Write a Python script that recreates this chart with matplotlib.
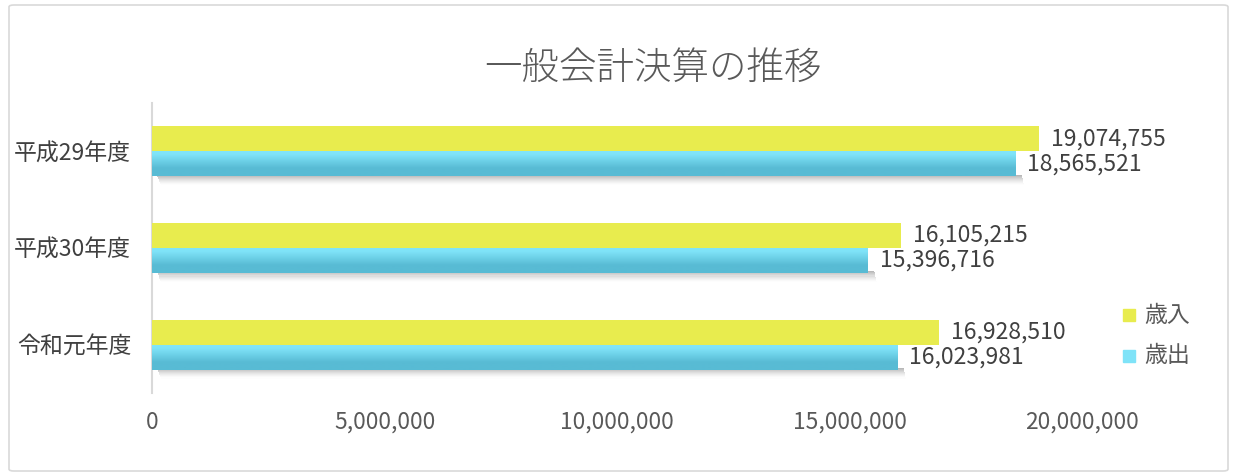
import matplotlib
matplotlib.use("Agg")
import matplotlib.pyplot as plt
import numpy as np
from matplotlib.patches import FancyBboxPatch
from matplotlib.ticker import FuncFormatter

plt.rcParams['font.family'] = ['Noto Sans CJK JP', 'DejaVu Sans']

title = "一般会計決算の推移"
categories = ["平成29年度", "平成30年度", "令和元年度"]
revenue = [19074755, 16105215, 16928510]      # 歳入
expenditure = [18565521, 15396716, 16023981]  # 歳出
series_names = ["歳入", "歳出"]
xticks = [0, 5000000, 10000000, 15000000, 20000000]

W, H = 1237, 475
fig = plt.figure(figsize=(W / 100, H / 100), dpi=100)
fig.patch.set_facecolor("white")

# outer border
fig.patches.append(FancyBboxPatch((9 / W, 4 / H), 1219 / W, 466 / H,
                                  boxstyle="round,pad=0,rounding_size=0.004",
                                  transform=fig.transFigure, fill=False,
                                  edgecolor="#d9d9d9", linewidth=1.2))

ax = fig.add_axes([152 / W, (H - 393) / H, (1082 - 152) / W, 290 / H])

y = np.arange(len(categories))
h = 0.26
yellow = "#e8ec4e"
blue_top = np.array([0x80, 0xe4, 0xf9]) / 255
blue_bot = np.array([0x58, 0xbb, 0xd4]) / 255

# soft shadows under the blue bars
nsteps = 10
for i, v in enumerate(expenditure):
    for k in range(nsteps):
        top = y[i] + h - 0.02
        ax.barh(top + k * 0.011, v + 40000 - k * 5000, height=0.011, align="edge",
                left=100000 + k * 10000, color="#000000",
                alpha=0.28 * (1 - k / nsteps) ** 1.5, linewidth=0, zorder=1)

bars_r = ax.barh(y - h / 2, revenue, height=h, color=yellow, linewidth=0, zorder=3)
bars_e = ax.barh(y + h / 2, expenditure, height=h, color="#7fe3f8", linewidth=0, zorder=3)

# gradient fill for blue bars
grad = np.zeros((50, 1, 3))
t = np.linspace(0, 1, 50)
tt = np.clip((t - 0.15) / 0.55, 0, 1)
for c in range(3):
    grad[:, 0, c] = blue_top[c] * (1 - tt) + blue_bot[c] * tt
for b in bars_e:
    x0, y0 = b.get_x(), b.get_y()
    im = ax.imshow(grad, extent=(x0, x0 + b.get_width(), y0 + b.get_height(), y0),
                   aspect="auto", zorder=4, interpolation="bilinear")
    im.set_clip_path(b)
ax.set_xlim(0, 20000000)
ax.set_ylim(2.5, -0.5)

label_color = "#404040"
for i in range(len(categories)):
    ax.text(revenue[i] + 250000, y[i] - h / 2, f"{revenue[i]:,}", va="center", ha="left",
            fontsize=16.5, color=label_color, zorder=5)
    ax.text(expenditure[i] + 250000, y[i] + h / 2, f"{expenditure[i]:,}", va="center", ha="left",
            fontsize=16.5, color=label_color, zorder=5)

ax.set_yticks(y)
ax.set_yticklabels(categories, fontsize=16.5, color="#404040")
ax.set_xticks(xticks)
ax.xaxis.set_major_formatter(FuncFormatter(lambda v, p: f"{int(v):,}"))
ax.tick_params(axis="x", labelsize=16.4, labelcolor="#595959", length=0, pad=13)
ax.tick_params(axis="y", length=0, pad=15)
for s in ["top", "right", "bottom"]:
    ax.spines[s].set_visible(False)
ax.spines["left"].set_color("#d9d9d9")
ax.spines["left"].set_linewidth(1.5)
ax.set_facecolor("none")

fig.text(653 / W, (H - 68) / H, title, ha="center", va="center", fontsize=27,
         color="#595959", fontweight="light")

# legend
fig.patches.append(plt.Rectangle((1123 / W, (H - 321) / H), 12 / W, 12 / H,
                                 transform=fig.transFigure, color=yellow))
fig.patches.append(plt.Rectangle((1123 / W, (H - 362) / H), 12 / W, 12 / H,
                                 transform=fig.transFigure, color="#7fe3f8"))
fig.text(1144 / W, (H - 315) / H, series_names[0], ha="left", va="center",
         fontsize=16.5, color="#595959")
fig.text(1144 / W, (H - 356) / H, series_names[1], ha="left", va="center",
         fontsize=16.5, color="#595959")

fig.savefig("out.png", dpi=100)
